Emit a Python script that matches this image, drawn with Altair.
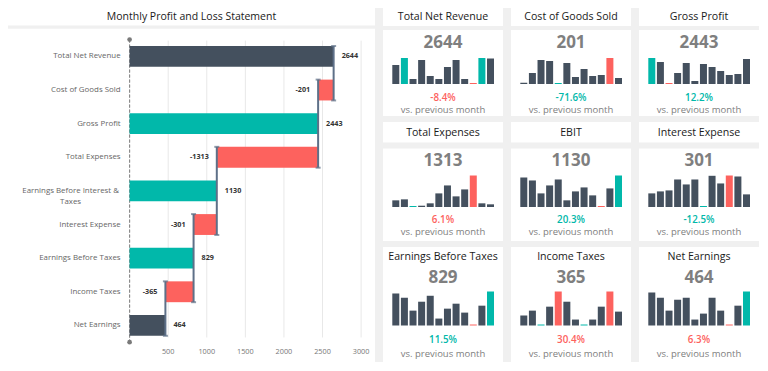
import altair as alt
import pandas as pd

BG = "#f0f0f0"
DARK = "#44505e"
TEAL = "#01b8aa"
RED = "#fd625e"
CONN = "#5e7088"
FONT = "Open Sans"

# ---------------- waterfall data ----------------
categories = ["Total Net Revenue", "Cost of Goods Sold", "Gross Profit", "Total Expenses",
              "Earnings Before Interest &\nTaxes", "Interest Expense", "Earnings Before Taxes",
              "Income Taxes", "Net Earnings"]
amounts = [2644, -201, 2443, -1313, 1130, -301, 829, -365, 464]
kinds = ["total", "neg", "sub", "neg", "sub", "neg", "sub", "neg", "total"]
x_ticks = [500, 1000, 1500, 2000, 2500, 3000]

# ---------------- KPI cards data ----------------
card_names = ["Total Net Revenue", "Cost of Goods Sold", "Gross Profit",
              "Total Expenses", "EBIT", "Interest Expense",
              "Earnings Before Taxes", "Income Taxes", "Net Earnings"]
card_values = [2644, 201, 2443, 1313, 1130, 301, 829, 365, 464]
card_changes = ["-8.4%", "-71.6%", "12.2%", "6.1%", "20.3%", "-12.5%", "11.5%", "30.4%", "6.3%"]
change_good = [False, True, True, False, True, True, True, False, False]
card_is_cost = [False, True, False, True, False, True, False, True, False]

spark_revenue = [19, 26, 5, 24, 8, 5, 17, 24, 5, 1, 26, 25.5]
spark_cogs = [1.3, 11, 24, 23, 1, 21, 7, 15, 8, 9, 26, 6]
spark_gross = [26, 22, 1, 11, 21, 3, 20, 17, 13, 9, 10, 25]
spark_expenses = [6.7, 7.7, 1, 1.3, 3.7, 13.7, 21.7, 10.7, 17.7, 31.7, 3.7, 2.7]
spark_ebit = [29.7, 26.7, 13.7, 21.7, 27.7, 6.7, 15.7, 19.7, 11.7, 1, 18.7, 31.7]
spark_interest = [13.7, 15.7, 16.7, 27.7, 22.7, 27.7, 1, 31.4, 23.7, 31.7, 30.7, 12.7]
spark_ebt = [32.3, 28, 15, 24, 30, 7, 17, 22, 13, 1, 20, 34.3]
spark_taxes = [10, 15, 1, 19, 34.3, 24, 6, 1, 6, 19, 34.3, 14]
spark_net = [33.3, 28, 15, 26, 28, 6, 12, 28, 15, 1, 20, 34.3]
sparks = [spark_revenue, spark_cogs, spark_gross, spark_expenses, spark_ebit,
          spark_interest, spark_ebt, spark_taxes, spark_net]

# ---------------- waterfall frames ----------------
rows = []
running = 0
for i, (c, a, k) in enumerate(zip(categories, amounts, kinds)):
    if k == "neg":
        start, end = running, running + a
    else:
        start, end = 0, a
    running = end
    rows.append(dict(i=i, cat=c, amt=a, kind=k, start=start, end=end,
                     y0=i - 0.31, y1=i + 0.31, label=str(a), multi=("\n" in c)))
wf = pd.DataFrame(rows)

lv = []
for r in rows:
    if r["kind"] == "neg":
        lv.append((r["start"], r["i"]))
    lv.append((r["end"], r["i"]))
conn = pd.DataFrame(lv, columns=["level", "i"]).groupby("level")["i"].agg(["min", "max"]).reset_index()
conn = conn[conn["min"] < conn["max"]].copy()
conn["ya"] = conn["min"] - 0.31
conn["yb"] = conn["max"] + 0.31
caps = pd.concat([conn[["level", "ya"]].rename(columns={"ya": "y"}),
                  conn[["level", "yb"]].rename(columns={"yb": "y"})])
ticks_df = pd.DataFrame({"t": x_ticks, "lab": [str(t) for t in x_ticks]})
ends_df = pd.DataFrame({"x": [0, 0], "y": [-0.5, 8.5]})

LW, LH = 367, 354
xs = alt.Scale(domain=[0, 3000], range=[121.6, 353.1], nice=False, zero=False)
ys = alt.Scale(domain=[-0.5, 8.5], range=[31.6, 334.2], nice=False, zero=False)
kind_color = alt.Scale(domain=["total", "sub", "neg"], range=[DARK, TEAL, RED])

base_wf = alt.Chart(wf)
title_df = pd.DataFrame({"title": ["Monthly Profit and Loss Statement"]})

left_layers = [
    alt.Chart(title_df).mark_rect(color=BG).encode(
        x=alt.value(0), x2=alt.value(LW), y=alt.value(17.5), y2=alt.value(20.7)),
    alt.Chart(title_df).mark_text(font=FONT, fontSize=10.5, color="#1a1a1a").encode(
        text="title:N", x=alt.value(LW / 2), y=alt.value(8.8)),
    alt.Chart(ticks_df).mark_rule(color="#e8e8e8", strokeWidth=1).encode(
        x=alt.X("t:Q", scale=xs, axis=None),
        y=alt.Y(datum=-0.47, scale=ys, axis=None), y2=alt.Y2(datum=8.36)),
    alt.Chart(ticks_df).mark_text(font=FONT, fontSize=7.3, color="#777777").encode(
        x=alt.X("t:Q", scale=xs, axis=None), y=alt.value(344), text="lab:N"),
    alt.Chart(ends_df).mark_rule(color="#8a8a8a", strokeDash=[3, 2], strokeWidth=1).encode(
        x=alt.X(datum=0, scale=xs, axis=None),
        y=alt.Y(datum=-0.5, scale=ys, axis=None), y2=alt.Y2(datum=8.5)),
    base_wf.mark_bar().encode(
        x=alt.X("start:Q", scale=xs, axis=None), x2="end:Q",
        y=alt.Y("y0:Q", scale=ys, axis=None), y2="y1:Q",
        color=alt.Color("kind:N", scale=kind_color, legend=None)),
    alt.Chart(conn).mark_rule(color=CONN, strokeWidth=2).encode(
        x=alt.X("level:Q", scale=xs, axis=None),
        y=alt.Y("ya:Q", scale=ys, axis=None), y2="yb:Q"),
    alt.Chart(caps).mark_tick(color=CONN, orient="horizontal", size=5, thickness=2).encode(
        x=alt.X("level:Q", scale=xs, axis=None),
        y=alt.Y("y:Q", scale=ys, axis=None)),
    alt.Chart(ends_df).mark_circle(color="#7a7a7a", size=22, opacity=1).encode(
        x=alt.X("x:Q", scale=xs, axis=None), y=alt.Y("y:Q", scale=ys, axis=None)),
    base_wf.transform_filter(alt.datum.kind != "neg").mark_text(
        font=FONT, fontSize=7.2, fontWeight="bold", color="#333333", align="left", dx=8).encode(
        x=alt.X("end:Q", scale=xs, axis=None), y=alt.Y("i:Q", scale=ys, axis=None), text="label:N"),
    base_wf.transform_filter(alt.datum.kind == "neg").mark_text(
        font=FONT, fontSize=7.2, fontWeight="bold", color="#333333", align="right", dx=-8).encode(
        x=alt.X("end:Q", scale=xs, axis=None), y=alt.Y("i:Q", scale=ys, axis=None), text="label:N"),
    base_wf.transform_filter(alt.datum.multi == False).mark_text(
        font=FONT, fontSize=7.9, color="#666666", align="right", dx=-9).encode(
        x=alt.X(datum=0, scale=xs, axis=None), y=alt.Y("i:Q", scale=ys, axis=None), text="cat:N"),
    base_wf.transform_filter(alt.datum.multi == True).mark_text(
        font=FONT, fontSize=7.9, color="#666666", align="center", dx=-59,
        lineBreak="\n", lineHeight=11).encode(
        x=alt.X(datum=0, scale=xs, axis=None), y=alt.Y("i:Q", scale=ys, axis=None), text="cat:N"),
]
left = alt.layer(*left_layers).properties(width=LW, height=LH)

# ---------------- cards ----------------
CW = 120
ROWS = [
    dict(H=108, gap=(18, 22), title=9, num=34.5, top=50, base=76, pct=89.5, vs=102),
    dict(H=119, gap=(20.5, 26.5), title=11, num=39, top=53.5, base=85, pct=97.5, vs=110),
    dict(H=115, gap=None, title=10, num=30.5, top=44.5, base=78.5, pct=92.5, vs=107),
]


def card(k):
    g = ROWS[k // 3]
    vals = sparks[k]
    mx, mn = max(vals), min(vals)
    hi, lo = (RED, TEAL) if card_is_cost[k] else (TEAL, RED)
    cols = [hi if v == mx else (lo if v == mn else DARK) for v in vals]
    sp = pd.DataFrame({"m": list(range(12)), "v": vals, "c": cols})
    info = pd.DataFrame([{"name": card_names[k], "num": str(card_values[k]),
                          "pct": card_changes[k], "sub": "vs. previous month"}])
    base = alt.Chart(info)
    layers = []
    if g["gap"]:
        layers.append(base.mark_rect(color=BG).encode(
            x=alt.value(0), x2=alt.value(CW), y=alt.value(g["gap"][0]), y2=alt.value(g["gap"][1])))
    layers += [
        base.mark_text(font=FONT, fontSize=10.6, color="#1a1a1a").encode(
            text="name:N", x=alt.value(CW / 2), y=alt.value(g["title"])),
        base.mark_text(font=FONT, fontSize=17, fontWeight="bold", color="#7f7f7f").encode(
            text="num:N", x=alt.value(CW / 2), y=alt.value(g["num"])),
        alt.Chart(sp).mark_bar(size=7).encode(
            x=alt.X("m:Q", scale=alt.Scale(domain=[0, 11], range=[7.8, 112.5], nice=False, zero=False), axis=None),
            y=alt.Y("v:Q", scale=alt.Scale(domain=[0, mx], range=[g["base"], g["top"]], nice=False), axis=None),
            y2=alt.value(g["base"]),
            color=alt.Color("c:N", scale=None, legend=None)),
        base.mark_text(font=FONT, fontSize=9.8, fontWeight=600,
                       color=(TEAL if change_good[k] else RED)).encode(
            text="pct:N", x=alt.value(CW / 2), y=alt.value(g["pct"])),
        base.mark_text(font=FONT, fontSize=9.5, color="#808080").encode(
            text="sub:N", x=alt.value(CW / 2), y=alt.value(g["vs"])),
    ]
    return alt.layer(*layers).properties(width=CW, height=g["H"])


row_charts = [alt.hconcat(*[card(r * 3 + c) for c in range(3)], spacing=8)
              .resolve_scale(x="independent", y="independent", color="independent")
              for r in range(3)]
right = alt.vconcat(*row_charts, spacing=6).resolve_scale(
    x="independent", y="independent", color="independent")

chart = alt.hconcat(left, right, spacing=8).resolve_scale(
    x="independent", y="independent", color="independent"
).properties(padding=0, background=BG).configure_view(fill="white", stroke=None)

chart.save("out.html", embed_options={"renderer": "svg", "actions": False})
